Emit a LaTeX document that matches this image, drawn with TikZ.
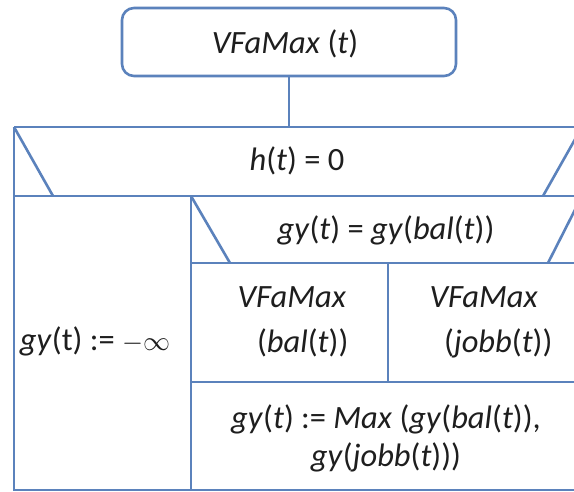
\documentclass[tikz,border=0pt]{standalone}
\usepackage{fix-cm}
\usepackage{fontspec}
\setmainfont{Carlito}
\newcommand\iv[1]{\textit{#1}}
\newcommand\neginf{{\fontsize{27}{30}\selectfont$-\infty$}}
\definecolor{nsline}{HTML}{5B82BC}
\definecolor{nstext}{HTML}{1E1E1E}
\tikzset{
  nsbox/.style={draw=nsline, line width=2.6pt},
  startbox/.style={nsbox, rounded corners=12pt, minimum width=334pt, minimum height=68pt, fill=white},
  lbl/.style={text=nstext, font=\fontsize{32.5}{40}\selectfont, inner sep=0pt},
}
\begin{document}
\begin{tikzpicture}[x=1pt,y=-1pt]
\useasboundingbox (0,0) rectangle (574,491);
\clip (0,0) rectangle (574,491);
\fill[white] (0,0) rectangle (574,491);

% program head
\node[startbox] (head) at (289,42) {};
\node[lbl] (headtxt) at (285,44) {\iv{VFaMax} (\iv{t})};
\coordinate (top) at (289,127);
\draw[nsline, line width=2.6pt] (head.south) -- (top);

% Nassi-Shneiderman structure (outer frame runs past the right edge)
\begin{scope}[nsline, line width=2.6pt]
  \draw (14,127) -- (582,127);
  \draw (14,127) -- (14,490) -- (582,490);
  % first selection
  \draw (14,127) -- (53,196);
  \draw (582,127) -- (543,196);
  \draw (14,196) -- (582,196);
  \draw (191,196) -- (191,490);
  % second selection
  \draw (191,196) -- (230,263);
  \draw (582,196) -- (548,263);
  \draw (191,263) -- (582,263);
  \draw (388,263) -- (388,382);
  \draw (191,382) -- (582,382);
\end{scope}

\node[lbl] (cond1) at (297,161) {\iv{h}(\iv{t}) = 0};
\node[lbl] (elsebr) at (95,341) {\iv{gy}(t) := \neginf};
\node[lbl] (cond2) at (386,230) {\iv{gy}(\iv{t}) = \iv{gy}(\iv{bal}(\iv{t}))};
\node[lbl, align=left, font=\fontsize{32.5}{45}\selectfont] (callL) at (293,322)
  {\iv{VFaMax}\\\hspace*{0.6em}(\iv{bal}(\iv{t}))};
\node[lbl, align=left, font=\fontsize{32.5}{45}\selectfont] (callR) at (491,322)
  {\iv{VFaMax}\\\hspace*{0.45em}(\iv{jobb}(\iv{t}))};
\node[lbl, align=center, font=\fontsize{32.5}{38}\selectfont] (maxst) at (386,438)
  {\iv{gy}(\iv{t}) := \iv{Max} (\iv{gy}(\iv{bal}(\iv{t})),\\\iv{gy}(\iv{jobb}(\iv{t})))};
\end{tikzpicture}
\end{document}
